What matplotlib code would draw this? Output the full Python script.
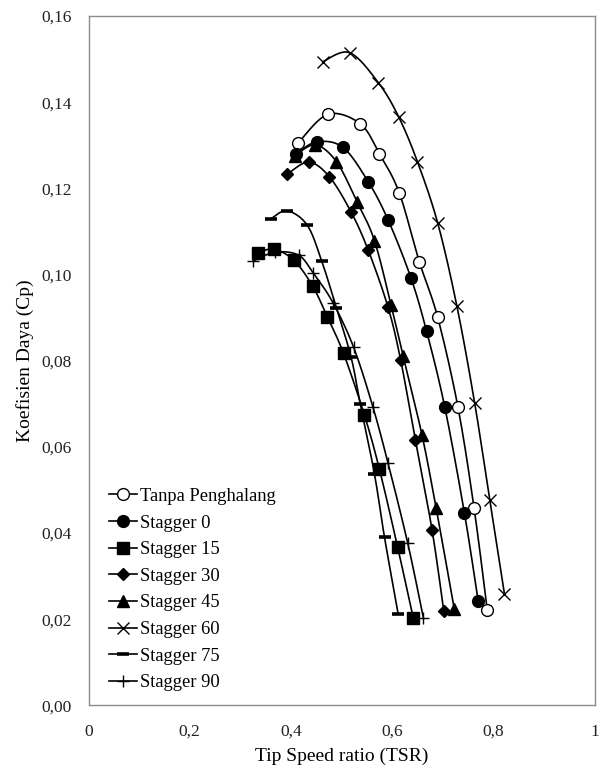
import numpy as np
import matplotlib
matplotlib.use("Agg")
import matplotlib.pyplot as plt
from matplotlib.lines import Line2D

plt.rcParams['font.family'] = ['Liberation Serif', 'DejaVu Serif']

# ---- data ----
tanpa_x = [0.414, 0.473, 0.537, 0.575, 0.614, 0.654, 0.690, 0.730, 0.762, 0.788]
tanpa_y = [0.1305, 0.1372, 0.1350, 0.1280, 0.1190, 0.1029, 0.0901, 0.0693, 0.0458, 0.0222]

s0_x = [0.410, 0.451, 0.503, 0.553, 0.592, 0.637, 0.668, 0.704, 0.743, 0.770]
s0_y = [0.1280, 0.1308, 0.1295, 0.1215, 0.1127, 0.0993, 0.0869, 0.0693, 0.0446, 0.0243]

s15_x = [0.334, 0.366, 0.406, 0.443, 0.472, 0.504, 0.545, 0.575, 0.611, 0.642]
s15_y = [0.1050, 0.1059, 0.1033, 0.0973, 0.0902, 0.0817, 0.0675, 0.0548, 0.0367, 0.0202]

s30_x = [0.393, 0.435, 0.476, 0.519, 0.553, 0.592, 0.617, 0.646, 0.679, 0.702]
s30_y = [0.1233, 0.1261, 0.1227, 0.1145, 0.1056, 0.0924, 0.0801, 0.0616, 0.0407, 0.0220]

s45_x = [0.408, 0.448, 0.490, 0.531, 0.565, 0.598, 0.622, 0.659, 0.687, 0.723]
s45_y = [0.1276, 0.1301, 0.1262, 0.1168, 0.1079, 0.0929, 0.0810, 0.0628, 0.0458, 0.0223]

s60_x = [0.463, 0.516, 0.573, 0.613, 0.650, 0.690, 0.728, 0.763, 0.793, 0.822]
s60_y = [0.1494, 0.1515, 0.1445, 0.1366, 0.1262, 0.1120, 0.0927, 0.0703, 0.0477, 0.0259]

s75_x = [0.360, 0.392, 0.432, 0.461, 0.490, 0.519, 0.537, 0.565, 0.585, 0.612]
s75_y = [0.1129, 0.1148, 0.1115, 0.1031, 0.0922, 0.0808, 0.0700, 0.0538, 0.0390, 0.0212]

s90_x = [0.326, 0.369, 0.415, 0.444, 0.483, 0.524, 0.562, 0.592, 0.631, 0.662]
s90_y = [0.1032, 0.1052, 0.1045, 0.1004, 0.0935, 0.0831, 0.0693, 0.0562, 0.0376, 0.0202]

labels = ['Tanpa Penghalang', 'Stagger 0', 'Stagger 15', 'Stagger 30',
          'Stagger 45', 'Stagger 60', 'Stagger 75', 'Stagger 90']

x_ticks = [0, 0.2, 0.4, 0.6, 0.8, 1.0]
x_tick_labels = ['0', '0,2', '0,4', '0,6', '0,8', '1']
y_ticks = [0, 0.02, 0.04, 0.06, 0.08, 0.10, 0.12, 0.14, 0.16]
y_tick_labels = ['0,00', '0,02', '0,04', '0,06', '0,08', '0,10', '0,12', '0,14', '0,16']

series = [
    (tanpa_x, tanpa_y, dict(marker='o', markersize=8.5, markerfacecolor='white', markeredgecolor='black', markeredgewidth=1.0)),
    (s0_x, s0_y, dict(marker='o', markersize=8.5, markerfacecolor='black', markeredgecolor='black')),
    (s15_x, s15_y, dict(marker='s', markersize=8.5, markerfacecolor='black', markeredgecolor='black')),
    (s30_x, s30_y, dict(marker='D', markersize=6.0, markerfacecolor='black', markeredgecolor='black')),
    (s45_x, s45_y, dict(marker='^', markersize=8.0, markerfacecolor='black', markeredgecolor='black')),
    (s60_x, s60_y, dict(marker='x', markersize=8.0, markeredgecolor='black', markeredgewidth=1.0)),
    (s75_x, s75_y, dict(marker='_', markersize=8.0, markeredgecolor='black', markeredgewidth=2.6)),
    (s90_x, s90_y, dict(marker='+', markersize=9.0, markeredgecolor='black', markeredgewidth=1.0)),
]


def smooth(xs, ys, n=20):
    """Excel-like smoothed line (Catmull-Rom Bezier through the data points)."""
    P = np.column_stack([xs, ys]).astype(float)
    sx, sy = 505.5, 4309.0
    P[:, 0] *= sx
    P[:, 1] *= sy
    out = [P[0]]
    m = len(P)
    for i in range(m - 1):
        p0 = P[i - 1] if i > 0 else P[i]
        p1 = P[i]
        p2 = P[i + 1]
        p3 = P[i + 2] if i + 2 < m else P[i + 1]
        c1 = p1 + (p2 - p0) / 6.0
        c2 = p2 - (p3 - p1) / 6.0
        t = np.linspace(0, 1, n)[1:, None]
        b = ((1 - t) ** 3) * p1 + 3 * ((1 - t) ** 2) * t * c1 + 3 * (1 - t) * t ** 2 * c2 + t ** 3 * p2
        out.extend(b)
    out = np.array(out)
    return out[:, 0] / sx, out[:, 1] / sy


fig = plt.figure(figsize=(6.01, 7.71), dpi=100)
ax = fig.add_axes([0.1473, 0.0850, 0.8419, 0.8942])

handles = []
for (xs, ys, mk), lab in zip(series, labels):
    sxs, sys_ = smooth(xs, ys)
    ax.plot(sxs, sys_, color='black', linewidth=1.2, zorder=2)
    ax.plot(xs, ys, linestyle='none', zorder=3, **mk)
    handles.append(Line2D([], [], color='black', linewidth=1.2, **mk))

ax.set_xlim(0, 1)
ax.set_ylim(0, 0.16)
ax.set_xticks(x_ticks)
ax.set_xticklabels(x_tick_labels)
ax.set_yticks(y_ticks)
ax.set_yticklabels(y_tick_labels)
ax.tick_params(axis='both', length=0, labelsize=12.5, colors='#222222')
ax.tick_params(axis='y', pad=12)
ax.tick_params(axis='x', pad=13)
for sp in ax.spines.values():
    sp.set_color('#8c8c8c')
    sp.set_linewidth(1.0)

ax.set_xlabel('Tip Speed ratio (TSR)', fontsize=14, labelpad=6)
ax.set_ylabel('Koefisien Daya (Cp)', fontsize=14, labelpad=5)

leg = ax.legend(handles, labels, loc='lower left', bbox_to_anchor=(0.026, 0.01),
                frameon=False, fontsize=13.3, handlelength=1.5, handletextpad=0.18,
                labelspacing=0.52, borderaxespad=0.0)

fig.savefig('out.png', dpi=100)
